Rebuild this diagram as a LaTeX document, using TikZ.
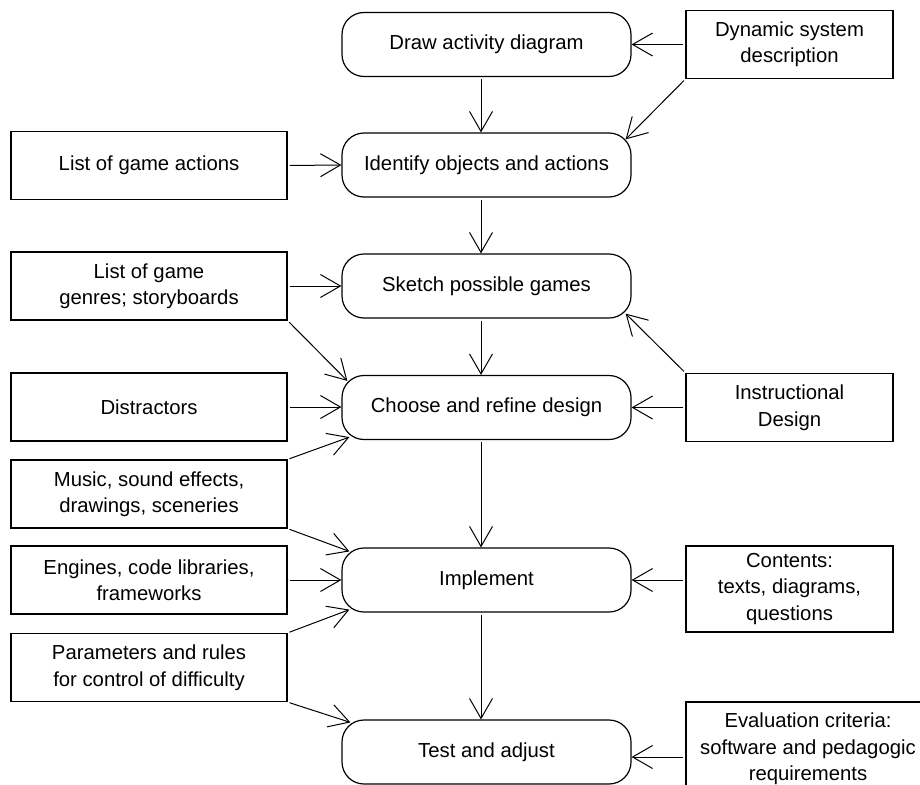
\documentclass[tikz,border=0pt]{standalone}
\usepackage{fontspec}
\setmainfont{Liberation Sans}
\usetikzlibrary{arrows.meta}

\begin{document}
\begin{tikzpicture}[
  x=1pt, y=-1pt,
  every node/.style={font=\fontsize{20.3}{26.5}\selectfont, align=center, inner sep=0pt},
  activity/.style={draw, line width=1.2pt, rounded corners=22pt,
                   minimum width=289pt, minimum height=64pt},
  resource/.style={draw, line width=1.2pt, minimum height=68pt},
  leftres/.style={resource, minimum width=276pt},
  rightres/.style={resource, minimum width=207pt},
  flow/.style={line width=1pt, shorten <=2pt,
               -{Straight Barb[length=20pt, width=23pt, line width=1pt]}},
]
\useasboundingbox (0,0) rectangle (920,784);

% main activity column
\node[activity] (draw)   at (486.5, 44.5)  {Draw activity diagram};
\node[activity] (ident)  at (486.5, 165)   {Identify objects and actions};
\node[activity] (sketch) at (486.5, 286)   {Sketch possible games};
\node[activity] (choose) at (486.5, 407.5) {Choose and refine design};
\node[activity] (impl)   at (486.5, 580)   {Implement};
\node[activity] (test)   at (486.5, 752)   {Test and adjust};

% inputs on the left
\node[leftres] (actions) at (149, 165.5) {List of game actions};
\node[leftres] (genres)  at (149, 286)   {List of game\\genres; storyboards};
\node[leftres] (distr)   at (149, 407)   {Distractors};
\node[leftres] (music)   at (149, 494)   {Music, sound effects,\\drawings, sceneries};
\node[leftres] (engines) at (149, 580)   {Engines, code libraries,\\frameworks};
\node[leftres] (params)  at (149, 667.5) {Parameters and rules\\for control of difficulty};

% inputs on the right
\node[rightres] (dyn)      at (789.5, 44.5)  {Dynamic system\\description};
\node[rightres] (instr)    at (789.5, 407.5) {Instructional\\Design};
\node[rightres, minimum height=86pt] (contents) at (789.5, 589) {Contents:\\texts, diagrams,\\questions};
\node[resource, minimum width=244pt, minimum height=94pt] (eval) at (808, 749)
  {Evaluation criteria:\\software and pedagogic\\requirements};

% main flow
\draw[flow] ([xshift=-5.5pt]draw.south)   -- ([xshift=-5.5pt]ident.north);
\draw[flow] ([xshift=-5.5pt]ident.south)  -- ([xshift=-5.5pt]sketch.north);
\draw[flow] ([xshift=-5.5pt]sketch.south) -- ([xshift=-5.5pt]choose.north);
\draw[flow] ([xshift=-5.5pt]choose.south) -- ([xshift=-5.5pt]impl.north);
\draw[flow] ([xshift=-5.5pt]impl.south)   -- ([xshift=-5.5pt]test.north);

% left inputs
\draw[flow] (actions.east) -- (ident.west);
\draw[flow] (genres.east) -- (sketch.west);
\draw[flow] (genres.south east) -- ([xshift=6pt,yshift=-6pt]choose.north west);
\draw[flow] (distr.east) -- (distr.east -| choose.west);
\draw[flow] (music.north east) -- ([xshift=8pt,yshift=3pt]choose.south west);
\draw[flow] (music.south east) -- ([xshift=8pt,yshift=-4pt]impl.north west);
\draw[flow] (engines.east) -- (impl.west);
\draw[flow] (params.north east) -- ([xshift=8pt,yshift=3pt]impl.south west);
\draw[flow] (params.south east) -- ([xshift=9pt,yshift=-3pt]test.north west);

% right inputs
\draw[flow] (dyn.west) -- (draw.east);
\draw[flow] (dyn.south west) -- ([xshift=-6pt,yshift=-7pt]ident.north east);
\draw[flow] (instr.west) -- (choose.east);
\draw[flow] (instr.north west) -- ([xshift=-6pt,yshift=5pt]sketch.south east);
\draw[flow] (contents.west |- impl.east) -- (impl.east);
\draw[flow] ([yshift=-8pt]eval.west) -- ([yshift=-8pt]eval.west -| test.east);
\end{tikzpicture}
\end{document}
